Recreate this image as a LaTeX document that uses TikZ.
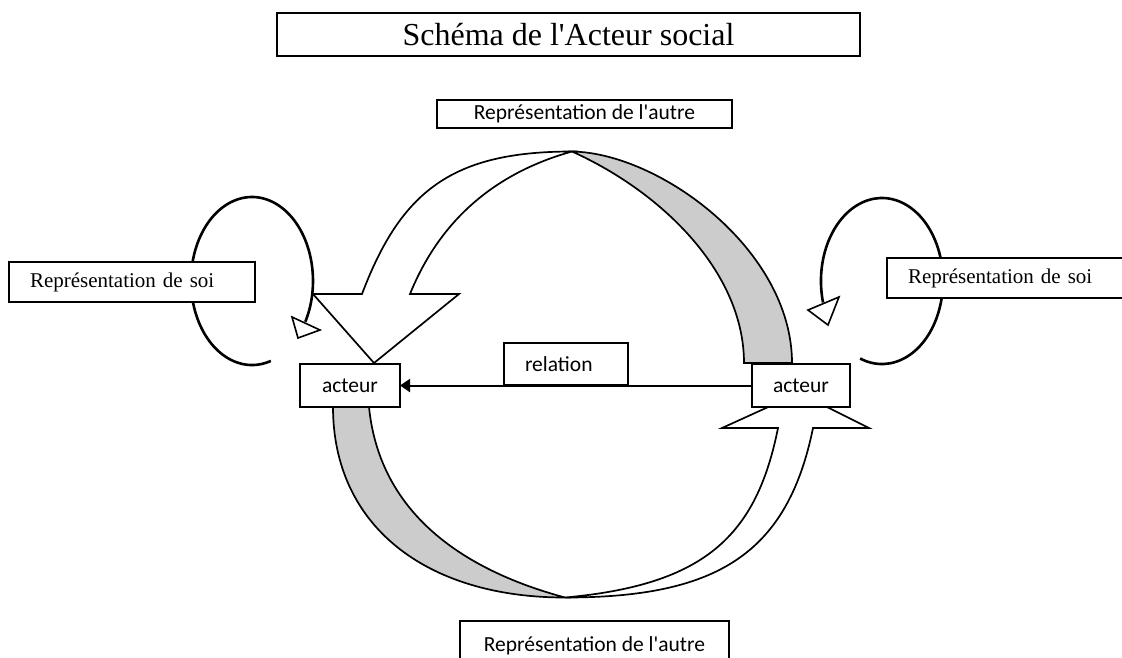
\documentclass[tikz,border=0pt]{standalone}
\usepackage{fontspec}
\newfontfamily\timesfont{Liberation Serif}
\newfontfamily\calfont{Carlito}
\usetikzlibrary{arrows.meta}
\tikzset{
  boxstyle/.style={draw=black, line width=1.7pt, fill=white, inner sep=0pt, outer sep=0pt},
  calib/.style={font=\calfont\fontsize{21.5}{24}\selectfont},
  serif/.style={font=\timesfont\fontsize{21}{24}\selectfont},
  band/.style={draw=black, line width=1.7pt, line join=miter},
  backband/.style={band, fill=gray!40},
  frontband/.style={band, fill=white},
  selfloop/.style={draw=black, line width=2.6pt},
  loophead/.style={draw=black, line width=1.6pt, fill=white, line join=miter},
  relarrow/.style={draw=black, line width=2pt, -{Triangle[length=10pt,width=13pt]}},
}
\begin{document}
\begin{tikzpicture}[x=1pt,y=-1pt]
\useasboundingbox (0,0) rectangle (1122,657);

% upper curved arrow (back side, grey)
\draw[backband] (572,151.5) .. controls (660,153) and (792,250) .. (792,363)
  -- (744,363) .. controls (744,273) and (663,192.5) .. (572,151.5) -- cycle;
% upper curved arrow (front side with head)
\draw[frontband] (374,363) -- (313,294) -- (362,294)
  .. controls (401,191) and (452,151.5) .. (572,151.5)
  .. controls (495,173) and (440,220) .. (410,294)
  -- (459,294) -- cycle;

% lower curved arrow (back side, grey)
\draw[backband] (333,407) .. controls (333,525) and (425,597.5) .. (565,597.5)
  .. controls (468.5,571.5) and (380,517) .. (369,407) -- cycle;
% lower curved arrow (front side with head)
\draw[frontband] (565,597.5) .. controls (705,584.9) and (756.4,535.8) .. (778,428)
  -- (722,428) -- (799,393) -- (869,428) -- (813,428)
  .. controls (787,555.4) and (715,597.5) .. (565,597.5) -- cycle;

% self loops
\draw[selfloop] (270.85,360.89) arc[start angle=72, end angle=389, x radius=61, y radius=84];
\draw[loophead] (292,317) -- (320,330) -- (298,338) -- cycle;
\draw[selfloop] (860.1,358.5) arc[start angle=111, end angle=-195, x radius=61, y radius=83];
\draw[loophead] (808,310) -- (839,297) -- (828,325) -- cycle;

% boxes
\node[boxstyle, minimum width=583pt, minimum height=43pt, font=\timesfont\fontsize{32}{36}\selectfont] (titre) at (568.5,34.5) {Schéma de l'Acteur social};
\node[boxstyle, calib, minimum width=295pt, minimum height=28pt] (autreH) at (584.5,114) {Représentation de l'autre};
\node[boxstyle, serif, minimum height=40pt, inner xsep=21pt, text width=204pt, align=left] (soiG) at (132,282) {Représentation de soi};
\node[boxstyle, serif, minimum height=40pt, inner xsep=21pt, text width=197pt, align=left] (soiD) at (1006.5,278) {Représentation de soi};
\node[boxstyle, calib, minimum height=42pt, inner xsep=21pt, text width=82pt, align=left] (relation) at (566,364) {relation};
\node[boxstyle, calib, minimum width=100pt, minimum height=43pt] (acteurG) at (350,385.5) {acteur};
\node[boxstyle, calib, minimum width=98pt, minimum height=43pt] (acteurD) at (801,385.5) {acteur};
\node[boxstyle, calib, anchor=north, minimum width=269pt, inner ysep=14pt, text height=16pt, text depth=5pt] (autreB) at (594.5,621) {Représentation de l'autre};

% relation connector
\draw[relarrow] (acteurD.west) -- (acteurG.east);
\end{tikzpicture}
\end{document}
